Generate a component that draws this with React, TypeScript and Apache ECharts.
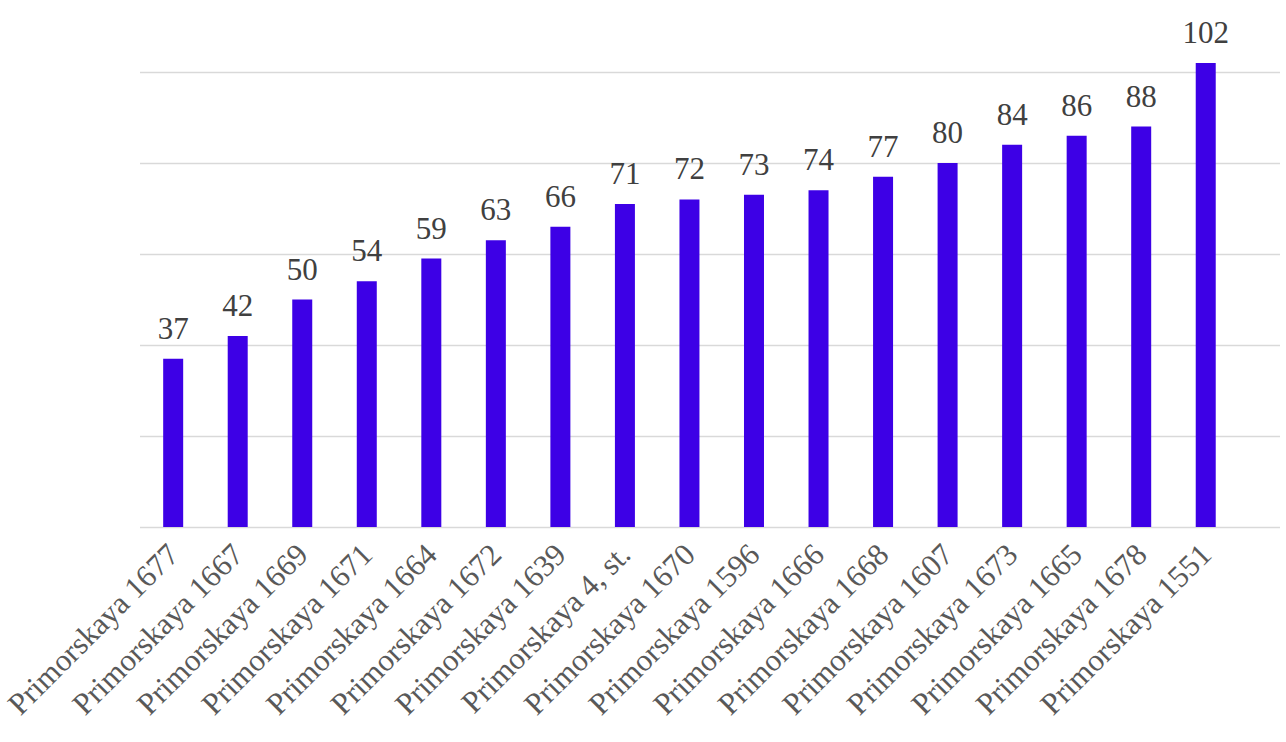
import React, { useEffect, useRef } from "react";
import * as echarts from "echarts";

const categories = [
  "Primorskaya 1677",
  "Primorskaya 1667",
  "Primorskaya 1669",
  "Primorskaya 1671",
  "Primorskaya 1664",
  "Primorskaya 1672",
  "Primorskaya 1639",
  "Primorskaya 4, st.",
  "Primorskaya 1670",
  "Primorskaya 1596",
  "Primorskaya 1666",
  "Primorskaya 1668",
  "Primorskaya 1607",
  "Primorskaya 1673",
  "Primorskaya 1665",
  "Primorskaya 1678",
  "Primorskaya 1551",
];
const values = [37, 42, 50, 54, 59, 63, 66, 71, 72, 73, 74, 77, 80, 84, 86, 88, 102];

const FONT = "Liberation Serif";

export default function App() {
  const ref = useRef<HTMLDivElement>(null);
  useEffect(() => {
    if (!ref.current) return;
    const chart = echarts.init(ref.current, null, { renderer: "svg" });
    const Y_MAX = 110;
    chart.setOption({
      animation: false,
      backgroundColor: "#ffffff",
      textStyle: { fontFamily: FONT },
      grid: [
        { left: 140, right: 6, top: 26.5, bottom: 215 },
        { left: 140, right: 48, top: 26.5, bottom: 215 },
      ],
      xAxis: [
        {
          gridIndex: 0,
          type: "value",
          min: 0,
          max: 1,
          show: false,
        },
        {
          gridIndex: 1,
          type: "category",
          data: categories,
          axisLine: { show: false },
          axisTick: { show: false },
          axisLabel: {
            rotate: 45,
            interval: 0,
            margin: 22,
            color: "#595959",
            fontFamily: FONT,
            fontSize: 31,
          },
        },
      ],
      yAxis: [
        {
          gridIndex: 0,
          type: "value",
          min: 0,
          max: Y_MAX,
          interval: 20,
          axisLine: { show: false },
          axisTick: { show: false },
          axisLabel: { show: false },
          splitLine: {
            show: true,
            showMinLine: true,
            showMaxLine: false,
            lineStyle: { color: "#d9d9d9", width: 1.3 },
          },
        },
        {
          gridIndex: 1,
          type: "value",
          min: 0,
          max: Y_MAX,
          interval: 20,
          show: false,
          splitLine: { show: false },
        },
      ],
      series: [
        {
          type: "bar",
          xAxisIndex: 1,
          yAxisIndex: 1,
          data: values,
          barWidth: 20,
          itemStyle: { color: "#3d00e6" },
          label: {
            show: true,
            position: "top",
            distance: 15,
            color: "#404040",
            fontFamily: FONT,
            fontSize: 31,
          },
        },
      ],
    });
    return () => chart.dispose();
  }, []);
  return (
    <div
      ref={ref}
      style={{ position: "fixed", left: 0, top: 0, width: 1286, height: 742 }}
    />
  );
}
